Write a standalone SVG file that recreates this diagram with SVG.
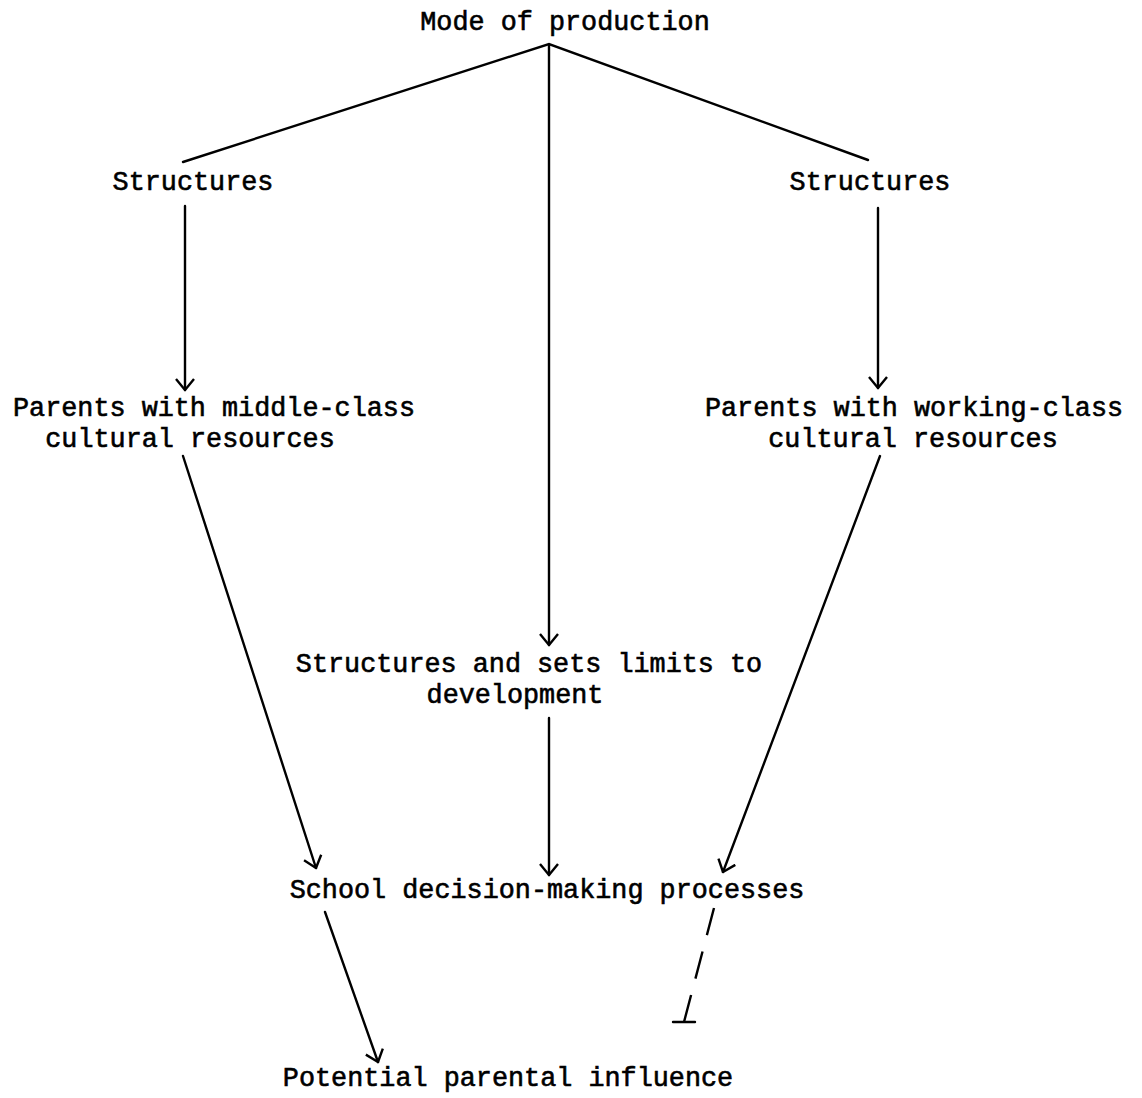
<svg xmlns="http://www.w3.org/2000/svg" width="1142" height="1098" viewBox="0 0 1142 1098">
  <defs>
    <style>
      .lbl { font-family: "Liberation Mono", "DejaVu Sans Mono", monospace; font-size: 26.8px; fill: #000; stroke: #000; stroke-width: 0.6px; text-anchor: middle; }
      .edge { fill: none; stroke: #000; stroke-width: 2.4; stroke-linecap: round; }
      .dash { stroke-dasharray: 28 17; stroke-linecap: butt; }
    </style>
    <marker id="arrow" viewBox="0 0 24 24" refX="12" refY="12" markerWidth="24" markerHeight="24" markerUnits="userSpaceOnUse" orient="auto">
      <path d="M 1 3 L 12 12 L 1 21" fill="none" stroke="#000" stroke-width="2.4" stroke-linejoin="round"/>
    </marker>
  </defs>
  <rect width="1142" height="1098" fill="#fff"/>

  <g id="connectors">
    <!-- apex fan from mode of production -->
    <path class="edge" d="M 183 162 L 549 44 L 868 160"/>
    <line class="edge" x1="549" y1="46" x2="549" y2="645" marker-end="url(#arrow)"/>
    <!-- structures to parents -->
    <line class="edge" x1="185" y1="206" x2="185" y2="390" marker-end="url(#arrow)"/>
    <line class="edge" x1="878" y1="208" x2="878" y2="388" marker-end="url(#arrow)"/>
    <!-- parents to school decision-making -->
    <line class="edge" x1="183" y1="456" x2="316" y2="868" marker-end="url(#arrow)"/>
    <line class="edge" x1="880" y1="456" x2="723" y2="872" marker-end="url(#arrow)"/>
    <!-- limits to school decision-making -->
    <line class="edge" x1="549" y1="718" x2="549" y2="875" marker-end="url(#arrow)"/>
    <!-- school decision-making to parental influence -->
    <line class="edge" x1="325" y1="912" x2="378" y2="1062" marker-end="url(#arrow)"/>
    <!-- blocked path -->
    <line class="edge dash" x1="714" y1="908" x2="684" y2="1022"/>
    <line class="edge" x1="673" y1="1022" x2="695" y2="1022"/>
  </g>

  <g id="mode">
    <text class="lbl" x="565" y="30">Mode of production</text>
  </g>
  <g id="structures-left">
    <text class="lbl" x="193" y="190">Structures</text>
  </g>
  <g id="structures-right">
    <text class="lbl" x="870" y="190">Structures</text>
  </g>
  <g id="parents-middle">
    <text class="lbl" x="214" y="416">Parents with middle-class</text>
    <text class="lbl" x="190" y="447">cultural resources</text>
  </g>
  <g id="parents-working">
    <text class="lbl" x="914" y="416">Parents with working-class</text>
    <text class="lbl" x="913" y="447">cultural resources</text>
  </g>
  <g id="limits">
    <text class="lbl" x="529" y="672">Structures and sets limits to</text>
    <text class="lbl" x="515" y="703">development</text>
  </g>
  <g id="school">
    <text class="lbl" x="547" y="898">School decision-making processes</text>
  </g>
  <g id="influence">
    <text class="lbl" x="508" y="1086">Potential parental influence</text>
  </g>
</svg>
